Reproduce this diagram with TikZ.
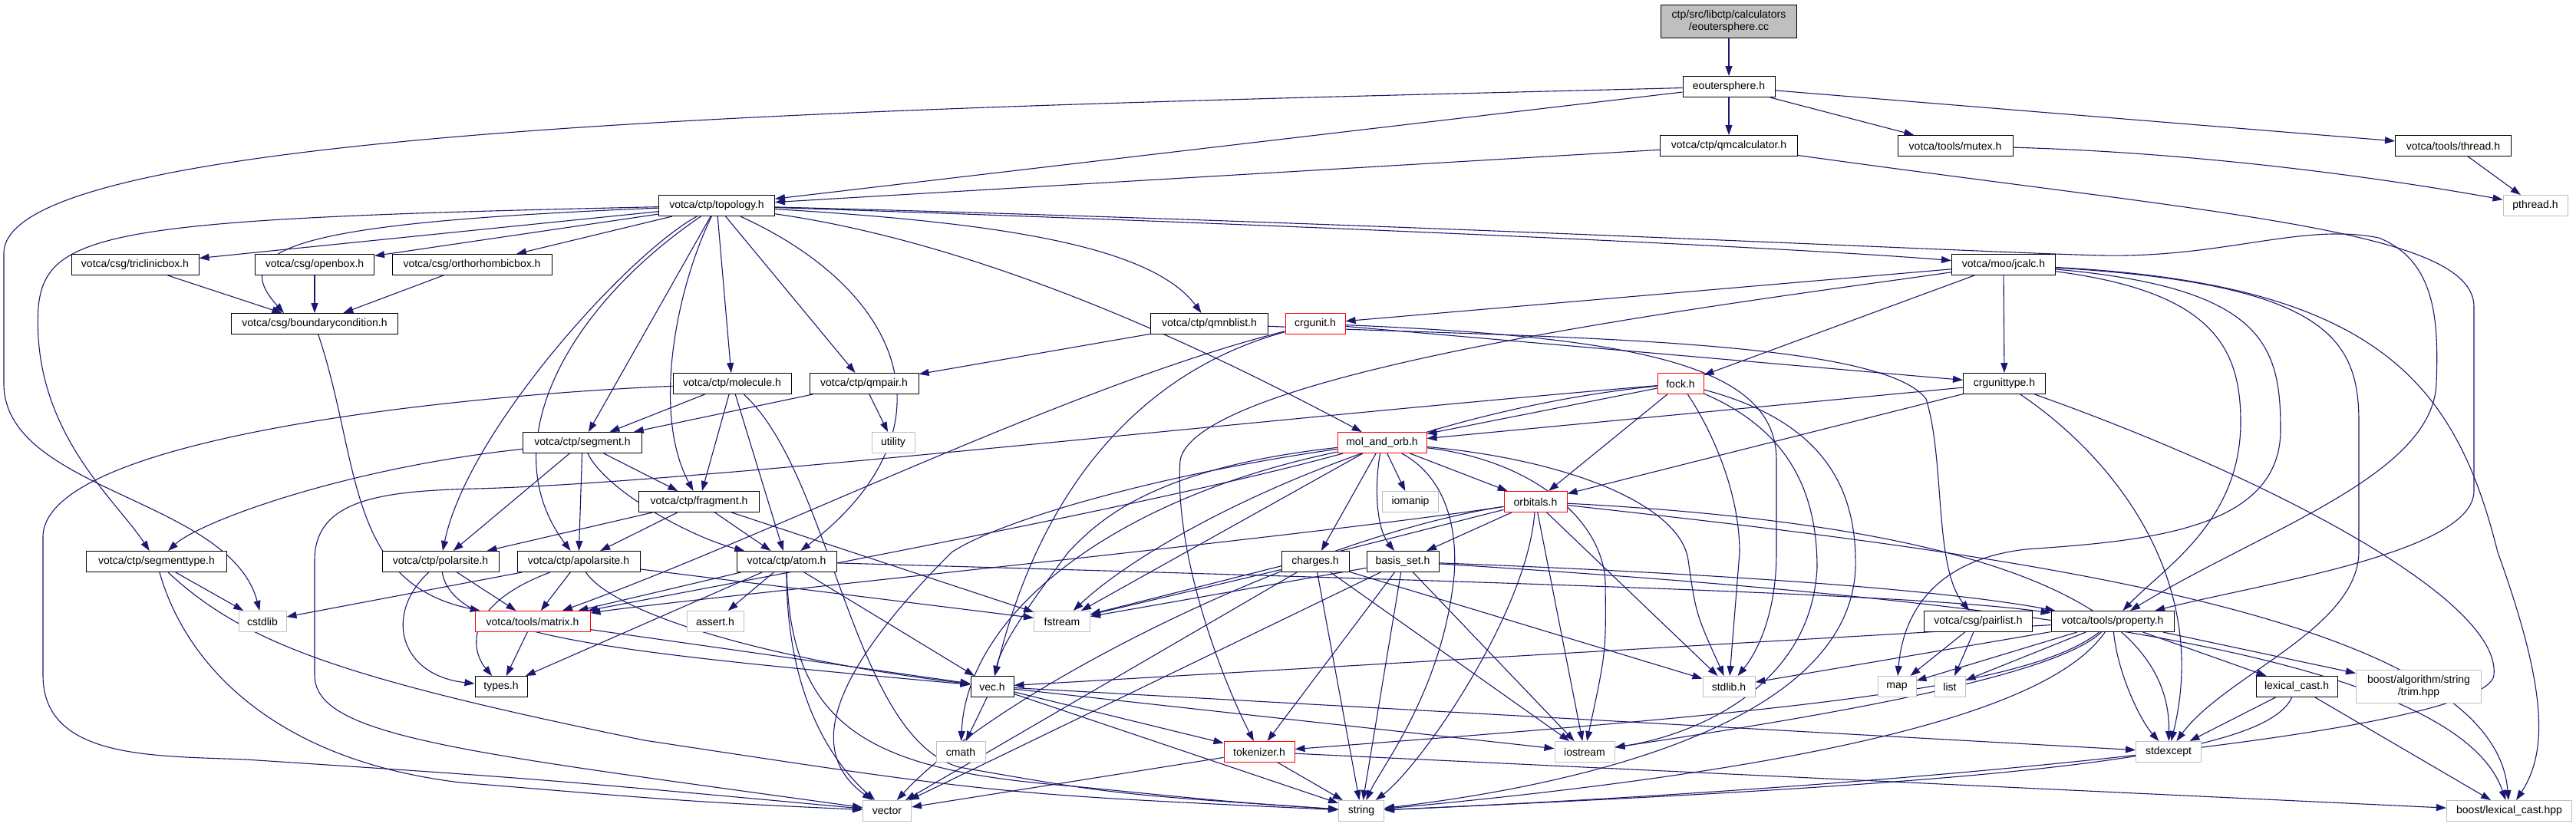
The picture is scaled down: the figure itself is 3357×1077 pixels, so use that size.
\documentclass[tikz,border=0pt]{standalone}
\usepackage{fontspec}
\setmainfont{Liberation Sans}
\usetikzlibrary{arrows.meta}
\definecolor{edgec}{HTML}{191970}
\definecolor{graybd}{HTML}{BFBFBF}
\definecolor{rootfill}{HTML}{BFBFBF}
\pgfdeclarelayer{bg}
\pgfsetlayers{bg,main}
\begin{document}
\begin{tikzpicture}[x=1pt,y=-1pt,
  every node/.style={font=\fontsize{14}{16}\selectfont, inner sep=0pt, minimum height=27pt, anchor=center},
  nb/.style={draw=black, line width=1pt, fill=white},
  nr/.style={draw=red, line width=1pt, fill=white},
  ng/.style={draw=graybd, line width=1pt, fill=white},
  e/.style={draw=edgec, line width=1.1pt, -{Triangle[length=13pt,width=9pt]}}]
\useasboundingbox (0,0) rectangle (3357,1077);
% nodes
\node[draw=black, line width=1pt, fill=rootfill, minimum width=177pt, minimum height=43pt, align=center] (cc) at (2253,28) {ctp/src/libctp/calculators\\/eoutersphere.cc};
\node[nb, minimum width=120pt] (eh) at (2253,113) {eoutersphere.h};
\node[nb, minimum width=179pt] (qmc) at (2253,190) {votca/ctp/qmcalculator.h};
\node[nb, minimum width=150pt] (mtx) at (2548,190) {votca/tools/mutex.h};
\node[nb, minimum width=151pt] (thr) at (3197,190) {votca/tools/thread.h};
\node[ng, minimum width=84pt] (pth) at (3304,268) {pthread.h};
\node[nb, minimum width=151pt] (topo) at (934,268) {votca/ctp/topology.h};
\node[nb, minimum width=135pt] (jc) at (2611,345) {votca/moo/jcalc.h};
\node[nb, minimum width=166pt] (tric) at (176,345) {votca/csg/triclinicbox.h};
\node[nb, minimum width=155pt] (obox) at (410,345) {votca/csg/openbox.h};
\node[nb, minimum width=208pt] (ortho) at (615,345) {votca/csg/orthorhombicbox.h};
\node[nb, minimum width=217pt] (bc) at (410,422) {votca/csg/boundarycondition.h};
\node[nb, minimum width=153pt] (qmnb) at (1576,422) {votca/ctp/qmnblist.h};
\node[nr, minimum width=78pt] (crgu) at (1714,422) {crgunit.h};
\node[nb, minimum width=107pt] (cut) at (2612,500) {crgunittype.h};
\node[nb, minimum width=154pt] (mol) at (954,500) {votca/ctp/molecule.h};
\node[nb, minimum width=142pt] (qmp) at (1126,500) {votca/ctp/qmpair.h};
\node[nr, minimum width=60pt] (fock) at (2190,500) {fock.h};
\node[ng, minimum width=56pt] (util) at (1164,577) {utility};
\node[nb, minimum width=155pt] (seg) at (759,577) {votca/ctp/segment.h};
\node[nr, minimum width=116pt] (mao) at (1801,577) {mol\_and\_orb.h};
\node[nb, minimum width=157pt] (frag) at (911,654) {votca/ctp/fragment.h};
\node[ng, minimum width=73pt] (ioman) at (1838,654) {iomanip};
\node[nr, minimum width=82pt] (orb) at (2001,654) {orbitals.h};
\node[nb, minimum width=183pt] (segt) at (204,732) {votca/ctp/segmenttype.h};
\node[nb, minimum width=152pt] (polar) at (574,732) {votca/ctp/polarsite.h};
\node[nb, minimum width=160pt] (apolar) at (754,732) {votca/ctp/apolarsite.h};
\node[nb, minimum width=130pt] (atom) at (1025,732) {votca/ctp/atom.h};
\node[nb, minimum width=88pt] (chg) at (1714,732) {charges.h};
\node[nb, minimum width=94pt] (bas) at (1828,732) {basis\_set.h};
\node[nb, minimum width=141pt] (pl) at (2578,810) {votca/csg/pairlist.h};
\node[nb, minimum width=160pt] (prop) at (2753,810) {votca/tools/property.h};
\node[ng, minimum width=62pt] (cstd) at (342,810) {cstdlib};
\node[nr, minimum width=150pt] (mat) at (694,810) {votca/tools/matrix.h};
\node[ng, minimum width=74pt] (asrt) at (932,810) {assert.h};
\node[ng, minimum width=73pt] (fstr) at (1384,810) {fstream};
\node[ng, minimum width=68pt] (stdl) at (2253,895) {stdlib.h};
\node[ng, minimum width=50pt] (map) at (2472,895) {map};
\node[ng, minimum width=40pt] (lst) at (2541,895) {list};
\node[nb, minimum width=106pt] (lexc) at (2993,895) {lexical\_cast.h};
\node[ng, minimum width=163pt, minimum height=43pt, align=center] (trim) at (3152,895) {boost/algorithm/string\\/trim.hpp};
\node[nb, minimum width=68pt] (typ) at (653,895) {types.h};
\node[nb, minimum width=56pt] (vec) at (1293,895) {vec.h};
\node[ng, minimum width=64pt] (cmath) at (1252,980) {cmath};
\node[nr, minimum width=92pt] (tok) at (1641,980) {tokenizer.h};
\node[ng, minimum width=78pt] (iost) at (2065,980) {iostream};
\node[ng, minimum width=85pt] (stdex) at (2826,980) {stdexcept};
\node[ng, minimum width=63pt] (vecr) at (1156,1057) {vector};
\node[ng, minimum width=59pt] (str) at (1774,1057) {string};
\node[ng, minimum width=163pt] (lchpp) at (3270,1057) {boost/lexical\_cast.hpp};
\begin{pgfonlayer}{bg}
% top
\draw[e] (cc) -- (eh);
\draw[e] (eh) -- (qmc);
\draw[e] (eh) -- (mtx);
\draw[e] (eh) -- (thr);
\draw[e] (eh) -- (topo);
\draw[e] (eh) .. controls (1200,140) and (5,160) .. (5,330) -- (5,500) .. controls (5,640) and (300,650) .. (cstd);
\draw[e] (qmc) -- (topo);
\draw[e] (qmc) .. controls (2900,280) and (3224,300) .. (3224,400) -- (3224,640) .. controls (3224,720) and (2950,760) .. (prop);
\draw[e] (mtx) .. controls (2900,200) and (3150,240) .. (pth);
\draw[e] (thr) -- (pth);
% topology
\draw[e] (topo) -- (tric);
\draw[e] (topo) -- (obox);
\draw[e] (topo) -- (ortho);
\draw[e] (topo) .. controls (400,290) and (290,320) .. ([xshift=-40pt]bc.north);
\draw[e] (topo) .. controls (150,285) and (60,300) .. (50,400) .. controls (40,560) and (150,650) .. (segt);
\draw[e] (topo) -- (seg);
\draw[e] (topo) .. controls (820,330) and (610,560) .. (polar);
\draw[e] (topo) .. controls (740,400) and (640,580) .. (apolar);
\draw[e] (topo) .. controls (880,380) and (850,540) .. (frag);
\draw[e] (topo) -- (mol);
\draw[e] (topo) -- (qmp);
\draw[e] (topo) .. controls (1180,380) and (1250,560) .. (atom);
\draw[e] (topo) .. controls (1300,290) and (1500,320) .. (qmnb);
\draw[e] (topo) .. controls (1300,320) and (1600,470) .. (mao);
\draw[e] (topo) .. controls (1600,290) and (2300,320) .. (jc);
\draw[e] (topo) .. controls (1800,290) and (2600,330) .. (2740,333) .. controls (2900,336) and (3000,290) .. (3100,310) .. controls (3175,340) and (3178,420) .. (3175,500) .. controls (3170,620) and (2950,690) .. (prop);
% boxes
\draw[e] (tric) -- (bc);
\draw[e] (obox) -- (bc);
\draw[e] (ortho) -- (bc);
\draw[e] (bc) .. controls (470,600) and (450,760) .. (mat);
% jcalc
\draw[e] (jc) -- (crgu);
\draw[e] (jc) -- (fock);
\draw[e] (jc) -- (cut);
\draw[e] (jc) .. controls (2300,390) and (1560,480) .. (1538,600) .. controls (1530,720) and (1590,880) .. (tok);
\draw[e] (jc) .. controls (2880,380) and (2920,450) .. (2920,550) .. controls (2920,680) and (2820,740) .. (prop);
\draw[e] (jc) .. controls (2950,375) and (2972,450) .. (2972,560) .. controls (2972,690) and (2800,705) .. (2640,716) .. controls (2520,730) and (2480,800) .. (map);
\draw[e] (jc) .. controls (3030,370) and (3074,440) .. (3074,550) -- (3074,720) .. controls (3072,820) and (2900,880) .. (stdex);
\draw[e] (jc) .. controls (3100,370) and (3200,500) .. (3255,720) .. controls (3320,900) and (3320,980) .. (lchpp);
% qmnblist
\draw[e] (qmnb) -- (qmp);
\draw[e] (qmnb) .. controls (2000,440) and (2450,440) .. (2510,520) .. controls (2535,600) and (2520,740) .. (pl);
% crgunit
\draw[e] (crgu) -- (cut);
\draw[e] (crgu) .. controls (2150,440) and (2315,480) .. (2315,600) -- (2315,720) .. controls (2315,800) and (2290,850) .. (stdl);
\draw[e] (crgu) .. controls (1500,480) and (1360,620) .. (vec);
\draw[e] (crgu) .. controls (1400,500) and (1000,700) .. (mat);
% crgunittype
\draw[e] (cut) -- (mao);
\draw[e] (cut) -- (orb);
\draw[e] (cut) .. controls (2760,600) and (2880,760) .. (stdex);
\draw[e] (cut) .. controls (2950,620) and (3260,780) .. (3250,880) .. controls (3240,960) and (2400,1030) .. (str);
% molecule
\draw[e] (mol) -- (seg);
\draw[e] (mol) -- (frag);
\draw[e] (mol) -- (atom);
\draw[e] (mol) .. controls (1085,620) and (1110,960) .. (1250,1000) .. controls (1450,1035) .. (str);
\draw[e] (mol) .. controls (600,515) and (56,570) .. (56,700) -- (56,880) .. controls (56,990) and (200,985) .. (320,990) .. controls (700,1015) .. (vecr);
% qmpair
\draw[e] (qmp) -- (seg);
\draw[e] (qmp) -- (util);
% segment
\draw[e] (seg) .. controls (450,610) and (260,680) .. (segt);
\draw[e] (seg) -- (polar);
\draw[e] (seg) -- (apolar);
\draw[e] (seg) -- (frag);
\draw[e] (seg) .. controls (790,640) and (900,700) .. (atom);
% fragment
\draw[e] (frag) -- (polar);
\draw[e] (frag) -- (apolar);
\draw[e] (frag) -- (atom);
\draw[e] (frag) -- (fstr);
% fock
\draw[e] (fock) -- (mao);
\draw[e] (fock) -- (orb);
\draw[e] (fock) .. controls (1600,550) and (900,630) .. (620,637) .. controls (500,640) and (410,650) .. (410,730) -- (410,880) .. controls (410,960) and (600,980) .. (vecr);
\draw[e] (fock) .. controls (1800,540) and (1500,700) .. (fstr);
\draw[e] (fock) .. controls (2230,560) and (2267,640) .. (2267,720) -- (stdl);
\draw[e] (fock) .. controls (2330,560) and (2368,640) .. (2368,740) .. controls (2360,900) and (2200,960) .. (iost);
\draw[e] (fock) .. controls (2380,550) and (2420,640) .. (2418,740) .. controls (2410,960) and (2000,1030) .. (str);
% mol_and_orb
\draw[e] (mao) -- (orb);
\draw[e] (mao) -- (ioman);
\draw[e] (mao) -- (chg);
\draw[e] (mao) .. controls (1790,640) and (1795,690) .. (bas);
\draw[e] (mao) .. controls (2050,600) and (2190,660) .. (2200,730) .. controls (2210,800) .. (stdl);
\draw[e] (mao) .. controls (2000,600) and (2090,680) .. (2092,760) .. controls (2093,850) .. (iost);
\draw[e] (mao) .. controls (1880,620) and (1900,680) .. (1895,750) .. controls (1880,900) and (1800,1000) .. (str);
\draw[e] (mao) -- (fstr);
\draw[e] (mao) .. controls (1500,610) and (1430,680) .. (1392,720) .. controls (1340,790) and (1305,840) .. (vec);
\draw[e] (mao) .. controls (1500,620) and (1300,680) .. (1240,720) .. controls (1080,880) and (1050,980) .. (vecr);
\draw[e] (mao) .. controls (1450,650) and (1260,800) .. (cmath);
\draw[e] (mao) .. controls (1500,660) and (900,770) .. (mat);
% orbitals
\draw[e] (orb) -- (bas);
\draw[e] (orb) .. controls (1990,800) and (1850,1000) .. (str);
\draw[e] (orb) -- (iost);
\draw[e] (orb) -- (stdl);
\draw[e] (orb) .. controls (2500,680) and (2830,760) .. (stdex);
\draw[e] (orb) .. controls (2600,720) and (3250,800) .. (lchpp);
\draw[e] (orb) -- (fstr);
\draw[e] (orb) .. controls (1700,700) and (900,780) .. (mat);
\draw[e] (orb) .. controls (1700,700) and (1300,900) .. (vecr);
% charges
\draw[e] (chg) -- (fstr);
\draw[e] (chg) -- (vecr);
\draw[e] (chg) -- (str);
\draw[e] (chg) -- (iost);
\draw[e] (chg) -- (stdl);
% basis_set
\draw[e] (bas) -- (fstr);
\draw[e] (bas) -- (vecr);
\draw[e] (bas) -- (str);
\draw[e] (bas) -- (tok);
\draw[e] (bas) -- (iost);
\draw[e] (bas) .. controls (2300,750) and (2550,772) .. (prop);
\draw[e] (bas) .. controls (2600,780) and (3200,850) .. (lchpp);
% pairlist
\draw[e] (pl) -- (map);
\draw[e] (pl) -- (lst);
% property
\draw[e] (prop) -- (vec);
\draw[e] (prop) -- (map);
\draw[e] (prop) -- (lst);
\draw[e] (prop) -- (stdl);
\draw[e] (prop) .. controls (2640,900) and (2300,930) .. (tok);
\draw[e] (prop) .. controls (2680,880) and (2400,930) .. (iost);
\draw[e] (prop) .. controls (2690,900) and (2500,990) .. (str);
\draw[e] (prop) .. controls (2760,880) and (2790,940) .. (stdex);
\draw[e] (prop) -- (lexc);
\draw[e] (prop) -- (trim);
% lexical_cast.h
\draw[e] (lexc) -- (stdex);
\draw[e] (lexc) .. controls (2950,990) and (2600,1020) .. (str);
\draw[e] (lexc) -- (lchpp);
% vec
\draw[e] (vec) -- (cmath);
\draw[e] (vec) -- (tok);
\draw[e] (vec) -- (iost);
\draw[e] (vec) -- (str);
\draw[e] (vec) -- (stdex);
% tokenizer
\draw[e] (tok) -- (vecr);
\draw[e] (tok) -- (str);
\draw[e] (tok) -- (lchpp);
% matrix
\draw[e] (mat) -- (typ);
\draw[e] (mat) -- (vec);
% atom
\draw[e] (atom) -- (asrt);
\draw[e] (atom) -- (vec);
\draw[e] (atom) .. controls (1025,900) and (1080,990) .. (vecr);
\draw[e] (atom) .. controls (1030,960) and (1150,1005) .. (1400,1025) .. controls (1600,1045) .. (str);
\draw[e] (atom) -- (mat);
\draw[e] (atom) -- (typ);
\draw[e] (atom) .. controls (2000,760) and (2500,775) .. (prop);
% polarsite
\draw[e] (polar) -- (mat);
\draw[e] (polar) .. controls (500,800) and (520,880) .. (typ);
\draw[e] (polar) .. controls (590,830) and (800,850) .. (vec);
% apolarsite
\draw[e] (apolar) -- (cstd);
\draw[e] (apolar) -- (mat);
\draw[e] (apolar) .. controls (600,790) and (615,850) .. (typ);
\draw[e] (apolar) .. controls (800,800) and (1000,860) .. (vec);
\draw[e] (apolar) -- (fstr);
% segmenttype
\draw[e] (segt) -- (cstd);
\draw[e] (segt) .. controls (240,860) and (350,990) .. (600,1020) .. controls (900,1045) .. (vecr);
\draw[e] (segt) .. controls (320,840) and (450,885) .. (840,965) .. controls (1300,1035) .. (str);
\end{pgfonlayer}
\end{tikzpicture}
\end{document}
